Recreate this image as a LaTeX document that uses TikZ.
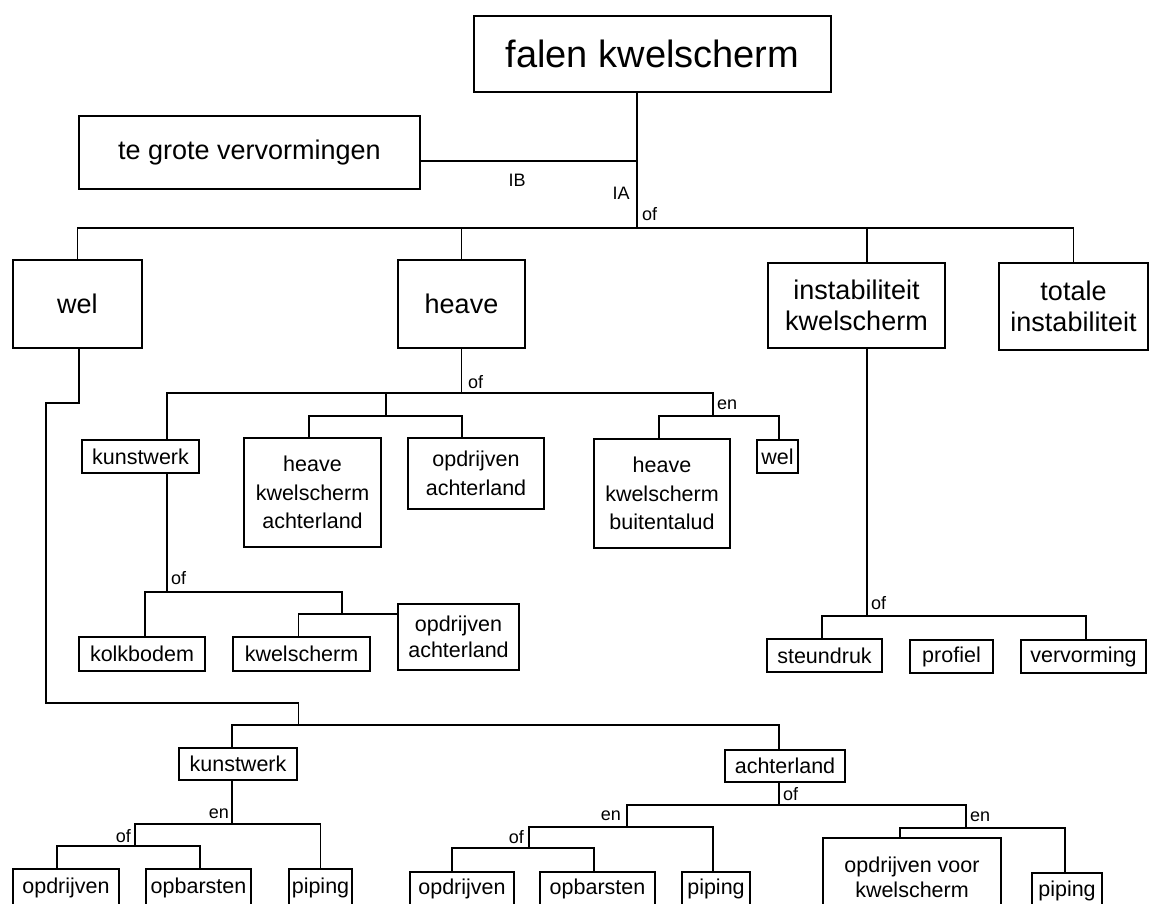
\documentclass[tikz,border=0pt]{standalone}
\usepackage{fontspec}
\setmainfont{Liberation Sans}
\tikzset{
  bx/.style={draw, line width=1.5pt, inner sep=0pt, align=center},
  big/.style={font=\fontsize{27}{31}\selectfont},
  sml/.style={font=\fontsize{21.5}{28.5}\selectfont},
  lbl/.style={font=\fontsize{18}{18}\selectfont, inner sep=0pt},
  ln/.style={line width=1.3pt},
}
\begin{document}
\begin{tikzpicture}[x=1pt,y=-1pt]
\useasboundingbox (0,0) rectangle (1149,903);
\clip (0,0) rectangle (1149,903);
\fill[white] (0,0) rectangle (1149,903);
% boxes
\node[bx, minimum width=357pt, minimum height=76pt, font=\fontsize{38}{40}\selectfont] (top) at (652.5,54) {falen kwelscherm};
\node[bx, big, minimum width=341pt, minimum height=73pt] (tgv) at (249.5,152.5) {te grote vervormingen};
\node[bx, big, minimum width=129pt, minimum height=88pt] (wel) at (77.5,304) {wel};
\node[bx, big, minimum width=127pt, minimum height=88pt] (heave) at (461.5,304) {heave};
\node[bx, big, minimum width=177pt, minimum height=85pt] (instab) at (856.5,305.5) {instabiliteit\\kwelscherm};
\node[bx, big, minimum width=149pt, minimum height=87pt] (totale) at (1073.5,306.5) {totale\\instabiliteit};
\node[bx, sml, minimum width=117pt, minimum height=33pt] (kunst1) at (140.5,456.5) {kunstwerk};
\node[bx, sml, minimum width=137pt, minimum height=109pt] (hka) at (312.5,492.5) {heave\\kwelscherm\\achterland};
\node[bx, sml, minimum width=136pt, minimum height=71pt] (oa1) at (476,473.5) {opdrijven\\achterland};
\node[bx, sml, minimum width=136pt, minimum height=109pt] (hkb) at (662,493.5) {heave\\kwelscherm\\buitentalud};
\node[bx, sml, minimum width=41pt, minimum height=33pt] (wel2) at (777.5,456.5) {wel};
\node[bx, sml, minimum width=126pt, minimum height=34pt] (kolk) at (142,654) {kolkbodem};
\node[bx, sml, minimum width=137pt, minimum height=34pt] (kwel) at (301.5,654) {kwelscherm};
\node[bx, minimum width=121pt, minimum height=66pt, font=\fontsize{21.5}{26}\selectfont] (oa2) at (458.5,637) {opdrijven\\achterland};
\node[bx, sml, minimum width=115pt, minimum height=33pt] (steun) at (824.5,655.5) {steundruk};
\node[bx, sml, minimum width=83pt, minimum height=33pt] (prof) at (951.5,656.5) {profiel};
\node[bx, sml, minimum width=125pt, minimum height=33pt] (verv) at (1083.5,656.5) {vervorming};
\node[bx, sml, minimum width=118pt, minimum height=32pt] (kunst2) at (238,764) {kunstwerk};
\node[bx, sml, minimum width=120pt, minimum height=32pt] (achter) at (785,766) {achterland};
\node[bx, sml, minimum width=106pt, minimum height=37pt] (b1) at (66,887.5) {opdrijven};
\node[bx, sml, minimum width=105pt, minimum height=37pt] (b2) at (198.5,887.5) {opbarsten};
\node[bx, sml, minimum width=63pt, minimum height=37pt] (b3) at (320.5,887.5) {piping};
\node[bx, sml, minimum width=104pt, minimum height=34pt] (m1) at (462,889) {opdrijven};
\node[bx, sml, minimum width=115pt, minimum height=34pt] (m2) at (597.5,889) {opbarsten};
\node[bx, sml, minimum width=68pt, minimum height=34pt] (m3) at (716,889) {piping};
\node[bx, minimum width=178pt, minimum height=78pt, font=\fontsize{21.5}{25}\selectfont] (r1) at (912,877) {opdrijven voor\\kwelscherm};
\node[bx, sml, minimum width=70pt, minimum height=36pt] (r2) at (1067,891) {piping};
% junctions
\coordinate (j0) at (637,228);
\coordinate (j1) at (461.5,393);
\coordinate (j2) at (386,416);
\coordinate (j3) at (713,416);
\coordinate (j4) at (167,592);
\coordinate (j6) at (342,614);
\coordinate (j7) at (867,616);
\coordinate (j5) at (298.5,725);
\coordinate (j8) at (232,824);
\coordinate (j9) at (135,846);
\coordinate (j10) at (779,805);
\coordinate (j11) at (627,827);
\coordinate (j12) at (966,828);
\coordinate (j13) at (529,848);
% connectors
\draw[ln] (top.south -| j0) -- (j0);
\draw[ln] ([yshift=-8.5pt]tgv.east) coordinate (ib) -- (ib -| j0);
\draw[ln] (wel.north) |- (j0) -| (totale.north);
\draw[ln] (heave.north) -- (heave.north |- j0);
\draw[ln] ([xshift=10.5pt]instab.north) -- ([xshift=10.5pt]instab.north |- j0);
\draw[ln] (heave.south) -- (j1);
\draw[ln] ([xshift=26.5pt]kunst1.north) |- (j1) -| (j3);
\draw[ln] (j2) -- (j2 |- j1);
\draw[ln] ([xshift=-3.5pt]hka.north) |- (j2) -| ([xshift=-14pt]oa1.north);
\draw[ln] ([xshift=-3pt]hkb.north) |- (j3) -| ([xshift=1.5pt]wel2.north);
\draw[ln] ([xshift=26.5pt]kunst1.south) -- (j4);
\draw[ln] ([xshift=3pt]kolk.north) |- (j4) -| (j6);
\draw[ln] ([xshift=-3pt]kwel.north) |- (j6) -- ([yshift=23pt]oa2.west);
\draw[ln] ([xshift=10.5pt]instab.south) -- (j7);
\draw[ln] ([xshift=-2.5pt]steun.north) |- (j7) -| ([xshift=2.5pt]verv.north);
\draw[ln] ([xshift=1.5pt]wel.south) |- (46,403) |- (298.5,703) -- (j5);
\draw[ln] ([xshift=-6pt]kunst2.north) |- (j5) -| ([xshift=-6pt]achter.north);
\draw[ln] ([xshift=-6pt]kunst2.south) -- (j8);
\draw[ln] (j9) |- (j8) -| (b3.north);
\draw[ln] ([xshift=-9pt]b1.north) |- (j9) -| ([xshift=1.5pt]b2.north);
\draw[ln] ([xshift=-6pt]achter.south) -- (j10);
\draw[ln] (j11) |- (j10) -| (j12);
\draw[ln] (j13) |- (j11) -| ([xshift=-3pt]m3.north);
\draw[ln] ([xshift=-10pt]m1.north) |- (j13) -| ([xshift=-3.5pt]m2.north);
\draw[ln] ([xshift=-12pt]r1.north) |- (j12) -| ([xshift=-2pt]r2.north);
% labels
\node[lbl] (lIB) at (517,180) {IB};
\node[lbl] (lIA) at (621,193) {IA};
\node[lbl] (lof0) at (649.5,214) {of};
\node[lbl, anchor=west] (lof1) at (468,382) {of};
\node[lbl, anchor=west] (len1) at (717,405) {en};
\node[lbl, anchor=west] (lof2) at (171,578) {of};
\node[lbl, anchor=west] (lof3) at (871,603) {of};
\node[lbl, anchor=east] (len2) at (229,814) {en};
\node[lbl, anchor=east] (lof4) at (131,836) {of};
\node[lbl, anchor=west] (lof5) at (783,794) {of};
\node[lbl, anchor=east] (len3) at (621,816) {en};
\node[lbl, anchor=east] (lof6) at (524,837) {of};
\node[lbl, anchor=west] (len4) at (970,817) {en};
\end{tikzpicture}
\end{document}
